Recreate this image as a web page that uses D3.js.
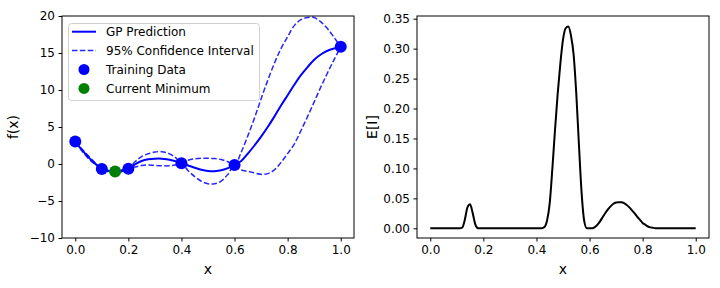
<!DOCTYPE html>
<html>
<head>
<meta charset="utf-8">
<script src="https://cdn.jsdelivr.net/npm/d3@7"></script>
<style>
  body { margin: 0; background: #fff; }
  text { font-family: "DejaVu Sans", sans-serif; }
</style>
</head>
<body>
<script>
// ---------- data ----------
const trainX = [0.0, 0.1, 0.2, 0.4, 0.6, 1.0];
const trainY = [3.03, -0.66, -0.64, 0.11, -0.15, 15.83];
const minX = [0.15];
const minY = [-1.02];

const gpX = [0.000, 0.025, 0.050, 0.075, 0.100, 0.125, 0.150, 0.175, 0.200, 0.225,
             0.250, 0.275, 0.300, 0.325, 0.350, 0.375, 0.400, 0.425, 0.450, 0.475,
             0.500, 0.525, 0.550, 0.575, 0.600, 0.625, 0.650, 0.675, 0.700, 0.725,
             0.750, 0.775, 0.800, 0.825, 0.850, 0.875, 0.900, 0.925, 0.950, 0.975, 1.000];
const gpMean = [3.03, 1.90, 0.90, 0.05, -0.66, -0.95, -1.02, -0.92, -0.64, -0.05,
                0.40, 0.63, 0.72, 0.72, 0.60, 0.40, 0.11, -0.20, -0.50, -0.78,
                -0.95, -0.97, -0.85, -0.55, -0.15, 0.40, 1.40, 2.50, 3.70, 5.00,
                6.40, 7.90, 9.30, 10.70, 12.00, 13.10, 14.10, 14.80, 15.30, 15.60, 15.83];
const gpUpper = [3.03, 2.02, 1.08, 0.17, -0.66, -0.83, -0.86, -0.80, -0.64, 0.30,
                 1.00, 1.38, 1.62, 1.67, 1.45, 0.95, 0.11, 0.50, 0.70, 0.77,
                 0.77, 0.73, 0.60, 0.30, -0.15, 1.60, 3.80, 6.20, 8.80, 11.30,
                 13.60, 15.60, 17.20, 18.70, 19.50, 19.80, 19.80, 19.20, 18.30, 17.10, 15.83];
const gpLower = [3.03, 1.78, 0.72, -0.07, -0.66, -1.07, -1.18, -1.04, -0.64, -0.40,
                 -0.20, -0.12, -0.18, -0.23, -0.25, -0.15, 0.11, -0.90, -1.70, -2.33,
                 -2.67, -2.67, -2.30, -1.40, -0.15, -0.80, -1.00, -1.20, -1.40, -1.30,
                 -0.80, 0.20, 1.40, 2.70, 4.50, 6.40, 8.40, 10.40, 12.30, 14.10, 15.83];

const eiX = [0.00, 0.11, 0.12, 0.13, 0.14, 0.15, 0.16, 0.17, 0.18, 0.42,
             0.43, 0.44, 0.45, 0.46, 0.47, 0.48, 0.49, 0.50, 0.51, 0.52,
             0.53, 0.54, 0.55, 0.56, 0.57, 0.58, 0.59, 0.61, 0.62, 0.63,
             0.64, 0.65, 0.66, 0.67, 0.68, 0.69, 0.70, 0.71, 0.72, 0.73,
             0.74, 0.75, 0.76, 0.77, 0.78, 0.79, 0.80, 0.81, 0.82, 0.83,
             0.84, 0.85, 0.86, 1.00];
const eiY = [0, 0, 0.001, 0.014, 0.035, 0.040, 0.025, 0.006, 0, 0,
             0.002, 0.013, 0.042, 0.100, 0.165, 0.225, 0.275, 0.315, 0.334, 0.337,
             0.322, 0.290, 0.225, 0.140, 0.060, 0.012, 0, 0, 0.002, 0.006,
             0.012, 0.019, 0.026, 0.032, 0.037, 0.041, 0.043, 0.0437, 0.0435, 0.042,
             0.039, 0.035, 0.030, 0.025, 0.019, 0.014, 0.009, 0.006, 0.003, 0.0015,
             0.0007, 0.0002, 0, 0];

const xTicks = [0.0, 0.2, 0.4, 0.6, 0.8, 1.0];
const yTicksL = [-10, -5, 0, 5, 10, 15, 20];
const yTicksR = [0.00, 0.05, 0.10, 0.15, 0.20, 0.25, 0.30, 0.35];
const legendLabels = ["GP Prediction", "95% Confidence Interval", "Training Data", "Current Minimum"];

// ---------- drawing ----------
const svg = d3.select("body").append("svg").attr("width", 720).attr("height", 288);
const BLUE = "#0000ff", GREEN = "#008000";

function frame(x0, x1, y0, y1) {
  svg.append("rect").attr("x", x0).attr("y", y0).attr("width", x1 - x0).attr("height", y1 - y0)
    .attr("fill", "none").attr("stroke", "#000").attr("stroke-width", 1);
}
function styleAxis(g) {
  g.select(".domain").remove();
  g.selectAll(".tick line").attr("stroke", "#000").attr("stroke-width", 1);
  g.selectAll(".tick text").attr("fill", "#000").style("font-size", "12px")
    .style("font-family", "DejaVu Sans");
}

// Left panel
const L = {x0: 62, x1: 354, y0: 16, y1: 238};
const xL = d3.scaleLinear().domain([-0.05, 1.05]).range([L.x0, L.x1]);
const yL = d3.scaleLinear().domain([-10, 20]).range([L.y1, L.y0]);

svg.append("g").attr("transform", `translate(0,${L.y1})`)
  .call(d3.axisBottom(xL).tickValues(xTicks).tickSize(3.5).tickPadding(3.5).tickFormat(d3.format(".1f")))
  .call(styleAxis);
svg.append("g").attr("transform", `translate(${L.x0},0)`)
  .call(d3.axisLeft(yL).tickValues(yTicksL).tickSize(3.5).tickPadding(3.5).tickFormat(d3.format("d")))
  .call(styleAxis);

const lineL = (ys) => d3.line().x((d, i) => xL(gpX[i])).y((d, i) => yL(ys[i])).curve(d3.curveCatmullRom.alpha(0.5));
svg.append("path").datum(gpMean).attr("d", lineL(gpMean)).attr("fill", "none")
  .attr("stroke", BLUE).attr("stroke-width", 2);
svg.append("path").datum(gpUpper).attr("d", lineL(gpUpper)).attr("fill", "none")
  .attr("stroke", BLUE).attr("stroke-width", 1.5).attr("stroke-dasharray", "5.5,2.4").attr("opacity", 0.85);
svg.append("path").datum(gpLower).attr("d", lineL(gpLower)).attr("fill", "none")
  .attr("stroke", BLUE).attr("stroke-width", 1.5).attr("stroke-dasharray", "5.5,2.4").attr("opacity", 0.85);

svg.append("g").selectAll("circle").data(trainX).join("circle")
  .attr("cx", (d) => xL(d)).attr("cy", (d, i) => yL(trainY[i])).attr("r", 6).attr("fill", BLUE);
svg.append("g").selectAll("circle").data(minX).join("circle")
  .attr("cx", (d) => xL(d)).attr("cy", (d, i) => yL(minY[i])).attr("r", 6).attr("fill", GREEN);

frame(L.x0, L.x1, L.y0, L.y1);

svg.append("text").attr("x", (L.x0 + L.x1) / 2).attr("y", 273.5).attr("text-anchor", "middle")
  .style("font-size", "14px").text("x");
svg.append("text").attr("transform", `translate(17.5,${(L.y0 + L.y1) / 2}) rotate(-90)`)
  .attr("text-anchor", "middle").style("font-size", "14px").text("f(x)");

// Legend
const lg = svg.append("g");
lg.append("rect").attr("x", 68.5).attr("y", 23.5).attr("width", 191).attr("height", 77).attr("rx", 3)
  .attr("fill", "#fff").attr("fill-opacity", 0.8).attr("stroke", "#d0d0d0").attr("stroke-width", 1);
const rowY = [31.7, 50.6, 69.5, 88.4];
lg.append("line").attr("x1", 72).attr("x2", 96).attr("y1", rowY[0]).attr("y2", rowY[0])
  .attr("stroke", BLUE).attr("stroke-width", 2);
lg.append("line").attr("x1", 72).attr("x2", 96).attr("y1", rowY[1]).attr("y2", rowY[1])
  .attr("stroke", BLUE).attr("stroke-width", 1.5).attr("stroke-dasharray", "5.5,2.4").attr("opacity", 0.85);
lg.append("circle").attr("cx", 84).attr("cy", rowY[2]).attr("r", 5.5).attr("fill", BLUE);
lg.append("circle").attr("cx", 84).attr("cy", rowY[3]).attr("r", 5.5).attr("fill", GREEN);
lg.selectAll("text.lab").data(legendLabels).join("text").attr("class", "lab")
  .attr("x", 106).attr("y", (d, i) => rowY[i]).attr("dy", "0.36em")
  .style("font-size", "12px").attr("fill", "#000").text((d) => d);

// Right panel
const R = {x0: 417, x1: 709, y0: 16, y1: 238};
const xR = d3.scaleLinear().domain([-0.05, 1.05]).range([R.x0, R.x1]);
const yR = d3.scaleLinear().domain([-0.0162, 0.3545]).range([R.y1, R.y0]);

svg.append("g").attr("transform", `translate(0,${R.y1})`)
  .call(d3.axisBottom(xR).tickValues(xTicks).tickSize(3.5).tickPadding(3.5).tickFormat(d3.format(".1f")))
  .call(styleAxis);
svg.append("g").attr("transform", `translate(${R.x0},0)`)
  .call(d3.axisLeft(yR).tickValues(yTicksR).tickSize(3.5).tickPadding(3.5).tickFormat(d3.format(".2f")))
  .call(styleAxis);

svg.append("path").datum(eiY)
  .attr("d", d3.line().x((d, i) => xR(eiX[i])).y((d) => yR(d)).curve(d3.curveMonotoneX))
  .attr("fill", "none").attr("stroke", "#000").attr("stroke-width", 2).attr("stroke-linejoin", "round");

frame(R.x0, R.x1, R.y0, R.y1);

svg.append("text").attr("x", (R.x0 + R.x1) / 2).attr("y", 273.5).attr("text-anchor", "middle")
  .style("font-size", "14px").text("x");
svg.append("text").attr("transform", `translate(377,${(R.y0 + R.y1) / 2}) rotate(-90)`)
  .attr("text-anchor", "middle").style("font-size", "14px").text("E[I]");
</script>
</body>
</html>
